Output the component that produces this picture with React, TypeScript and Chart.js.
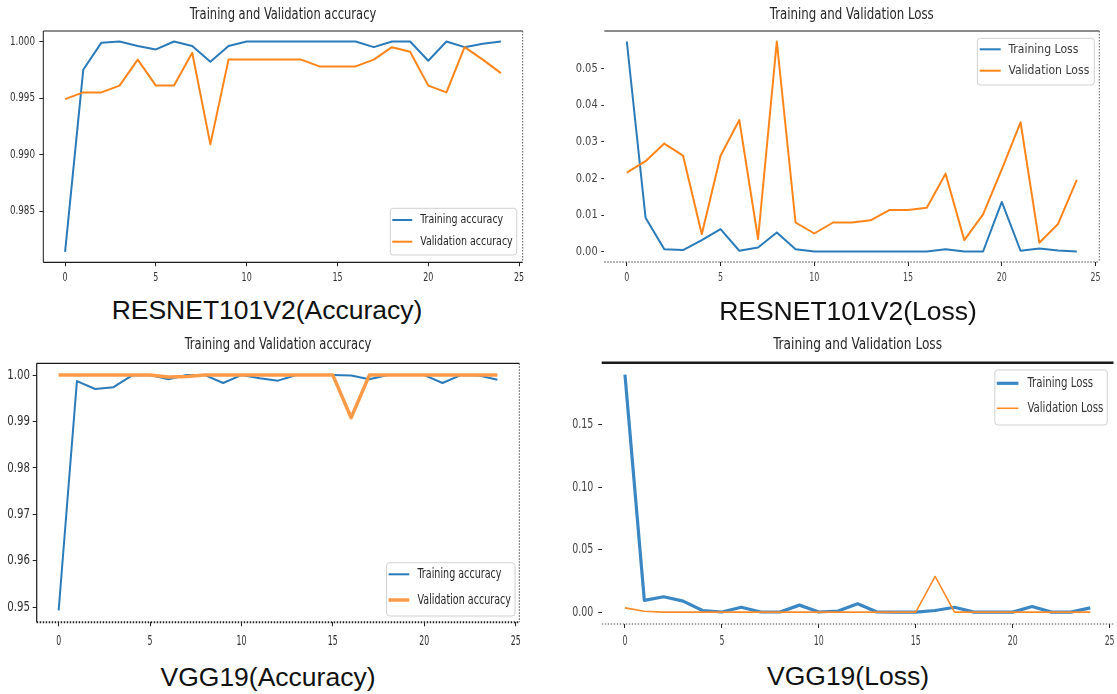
import React, { useEffect, useRef } from "react";
import { Chart, registerables } from "chart.js";

Chart.register(...registerables);

const COND = '"DejaVu Sans Condensed", "DejaVu Sans", sans-serif';
const CAPTION_FONT = '"Liberation Sans", Arial, Helvetica, sans-serif';
const TEXT = "#262626";
const TICK = "#262626";

// ---------- data ----------
const EPOCHS = [0, 1, 2, 3, 4, 5, 6, 7, 8, 9, 10, 11, 12, 13, 14, 15, 16, 17, 18, 19, 20, 21, 22, 23, 24];
const X_TICKS = [0, 5, 10, 15, 20, 25];

const RES_TRAIN_ACC = [0.9814, 0.9975, 0.9999, 1.0, 0.9996, 0.9993, 1.0, 0.9996, 0.9982, 0.9996, 1.0, 1.0, 1.0, 1.0, 1.0, 1.0, 1.0, 0.9995, 1.0, 1.0, 0.9983, 1.0, 0.9995, 0.9998, 1.0];
const RES_VAL_ACC = [0.9949, 0.9955, 0.9955, 0.9961, 0.9984, 0.9961, 0.9961, 0.999, 0.9909, 0.9984, 0.9984, 0.9984, 0.9984, 0.9984, 0.9978, 0.9978, 0.9978, 0.9984, 0.9995, 0.9991, 0.9961, 0.9955, 0.9995, 0.9984, 0.9972];
const RES_ACC_TICKS = [0.985, 0.99, 0.995, 1.0];

const RES_TRAIN_LOSS = [0.0573, 0.0093, 0.0007, 0.0005, 0.0032, 0.0062, 0.0003, 0.0012, 0.0053, 0.0007, 0.0001, 0.0001, 0.0001, 0.0001, 0.0001, 0.0001, 0.0001, 0.0007, 0.0001, 0.0001, 0.0136, 0.0003, 0.0009, 0.0004, 0.0001];
const RES_VAL_LOSS = [0.0216, 0.0247, 0.0295, 0.0262, 0.0048, 0.0262, 0.0359, 0.0035, 0.0573, 0.008, 0.005, 0.008, 0.008, 0.0086, 0.0114, 0.0114, 0.012, 0.0213, 0.0032, 0.0102, 0.0225, 0.0353, 0.0025, 0.0076, 0.0196];
const RES_LOSS_TICKS = [0.0, 0.01, 0.02, 0.03, 0.04, 0.05];

const VGG_TRAIN_ACC = [0.9493, 0.9987, 0.997, 0.9974, 0.9999, 1.0, 0.9991, 1.0, 1.0, 0.9983, 1.0, 0.9993, 0.9988, 1.0, 1.0, 1.0, 0.9999, 0.9991, 1.0, 1.0, 1.0, 0.9983, 1.0, 0.9999, 0.999];
const VGG_VAL_ACC = [1.0, 1.0, 1.0, 1.0, 1.0, 1.0, 0.9996, 0.9997, 1.0, 1.0, 1.0, 1.0, 1.0, 1.0, 1.0, 1.0, 0.9908, 1.0, 1.0, 1.0, 1.0, 1.0, 1.0, 1.0, 1.0];
const VGG_ACC_TICKS = [0.95, 0.96, 0.97, 0.98, 0.99, 1.0];

const VGG_TRAIN_LOSS = [0.19, 0.0095, 0.0124, 0.0089, 0.0014, 0.0002, 0.004, 0.0002, 0.0002, 0.0057, 0.0002, 0.001, 0.0068, 0.0002, 0.0001, 0.0001, 0.0014, 0.004, 0.0001, 0.0001, 0.0001, 0.0046, 0.0001, 0.0001, 0.0035];
const VGG_VAL_LOSS = [0.0035, 0.0008, 0.0001, 0.0001, 0.0001, 0.0001, 0.0001, 0.0001, 0.0001, 0.0001, 0.0001, 0.0001, 0.0001, 0.0001, 0.0001, 0.0001, 0.0286, 0.0001, 0.0001, 0.0001, 0.0001, 0.0001, 0.0001, 0.0001, 0.0001];
const VGG_LOSS_TICKS = [0.0, 0.05, 0.1, 0.15];

// ---------- layout / style specs ----------
type Side = { color: string; width: number; dash?: number[] } | null;

const SOLID = (w = 1): Side => ({ color: "#1a1a1a", width: w });
const DOTTED = (w = 1, c = "#555"): Side => ({ color: c, width: w, dash: [1.5, 1.5] });

const PANELS: any[] = [
  {
    key: "p1",
    canvas: { left: 0, top: 0, width: 550, height: 292 },
    area: { left: 43.3, top: 31, right: 522.7, bottom: 262.3 },
    title: "Training and Validation accuracy",
    titleY: 15,
    titleFont: 16,
    titleSx: 0.8,
    caption: "RESNET101V2(Accuracy)",
    captionX: 267,
    captionY: 310,
    train: RES_TRAIN_ACC,
    val: RES_VAL_ACC,
    trainLabel: "Training accuracy",
    valLabel: "Validation accuracy",
    trainColor: "#2b7bba",
    valColor: "#ff851a",
    trainWidth: 2,
    valWidth: 2,
    yTicks: RES_ACC_TICKS,
    yDec: 3,
    yFont: 13,
    ySx: 0.75,
    yTickLen: 4,
    yGap: 8.3,
    xFont: 13,
    xSx: 0.68,
    xTickLen: 4,
    xOff: 15.7,
    tickText: "#303030",
    frame: { left: SOLID(1), top: SOLID(1), bottom: SOLID(1.2), right: DOTTED(1) },
    legend: { right: 516.7, bottom: 255, boxH: 46.7, rowTop: 11.7, rowH: 21.7, font: 13, sx: 0.81, padL: 2, handle: 20, gap: 8, padR: 4 },
  },
  {
    key: "p2",
    canvas: { left: 550, top: 0, width: 567, height: 292 },
    area: { left: 604.3, top: 31, right: 1099.3, bottom: 262 },
    title: "Training and Validation Loss",
    titleY: 15,
    titleFont: 16,
    titleSx: 0.82,
    caption: "RESNET101V2(Loss)",
    captionX: 848,
    captionY: 311,
    train: RES_TRAIN_LOSS,
    val: RES_VAL_LOSS,
    trainLabel: "Training Loss",
    valLabel: "Validation Loss",
    trainColor: "#2b7bba",
    valColor: "#ff851a",
    trainWidth: 2,
    valWidth: 2,
    yTicks: RES_LOSS_TICKS,
    yDec: 2,
    yFont: 12.5,
    ySx: 0.88,
    yTickLen: 3,
    yGap: 6.6,
    xFont: 13,
    xSx: 0.68,
    xTickLen: 4,
    xOff: 16,
    tickText: "#444",
    frame: { left: null, top: SOLID(1.2), bottom: DOTTED(1.2, "#444"), right: DOTTED(1, "#666") },
    legend: { right: 1094.3, top: 38.3, boxH: 46.7, rowTop: 11, rowH: 21.4, font: 13, sx: 0.93, padL: 2.3, handle: 21, gap: 7.7, padR: 5, color: "#3a3a3a" },
  },
  {
    key: "p3",
    canvas: { left: 0, top: 325, width: 550, height: 330 },
    area: { left: 36.7, top: 363.3, right: 519.3, bottom: 622.3 },
    title: "Training and Validation accuracy",
    titleY: 345,
    titleFont: 16,
    titleSx: 0.8,
    caption: "VGG19(Accuracy)",
    captionX: 268,
    captionY: 676.5,
    train: VGG_TRAIN_ACC,
    val: VGG_VAL_ACC,
    trainLabel: "Training accuracy",
    valLabel: "Validation accuracy",
    trainColor: "#2b7bba",
    valColor: "#fc9a48",
    trainWidth: 2,
    valWidth: 3.5,
    yTicks: VGG_ACC_TICKS,
    yDec: 2,
    yFont: 14,
    ySx: 0.81,
    yTickLen: 4,
    yGap: 6.7,
    xFont: 14,
    xSx: 0.62,
    xTickLen: 4,
    xOff: 19.4,
    tickText: "#303030",
    frame: { left: SOLID(1.2), top: SOLID(1.2), bottom: DOTTED(2, "#222"), right: DOTTED(1, "#444") },
    legend: { right: 515, bottom: 616, boxH: 53.3, rowTop: 11.6, rowH: 25.7, font: 14, sx: 0.76, padL: 2, handle: 20.7, gap: 8.3, padR: 4 },
  },
  {
    key: "p4",
    canvas: { left: 550, top: 325, width: 580, height: 330 },
    area: { left: 601.7, top: 362.7, right: 1113.5, bottom: 624 },
    title: "Training and Validation Loss",
    titleY: 345,
    titleFont: 16,
    titleSx: 0.845,
    caption: "VGG19(Loss)",
    captionX: 848,
    captionY: 676,
    train: VGG_TRAIN_LOSS,
    val: VGG_VAL_LOSS,
    trainLabel: "Training Loss",
    valLabel: "Validation Loss",
    trainColor: "#3a87c4",
    valColor: "#ff8a2a",
    trainWidth: 3.2,
    valWidth: 1.6,
    yTicks: VGG_LOSS_TICKS,
    yDec: 2,
    yFont: 14,
    ySx: 0.75,
    yTickLen: 3.5,
    yGap: 8.4,
    xFont: 14,
    xSx: 0.62,
    xTickLen: 4,
    xOff: 17.7,
    tickText: "#444",
    frame: { left: null, top: SOLID(2.6), bottom: DOTTED(1.2, "#555"), right: null },
    legend: { right: 1107.3, top: 370, boxH: 55, rowTop: 13.3, rowH: 25, font: 14, sx: 0.81, padL: 2, handle: 21.6, gap: 9, padR: 4, color: "#333" },
  },
];

function strokeSide(ctx: CanvasRenderingContext2D, side: Side, x1: number, y1: number, x2: number, y2: number) {
  if (!side) return;
  ctx.save();
  ctx.strokeStyle = side.color;
  ctx.lineWidth = side.width;
  ctx.setLineDash(side.dash || []);
  ctx.beginPath();
  ctx.moveTo(x1, y1);
  ctx.lineTo(x2, y2);
  ctx.stroke();
  ctx.restore();
}

function roundRect(ctx: CanvasRenderingContext2D, x: number, y: number, w: number, h: number, r: number) {
  ctx.beginPath();
  ctx.moveTo(x + r, y);
  ctx.lineTo(x + w - r, y);
  ctx.arcTo(x + w, y, x + w, y + r, r);
  ctx.lineTo(x + w, y + h - r);
  ctx.arcTo(x + w, y + h, x + w - r, y + h, r);
  ctx.lineTo(x + r, y + h);
  ctx.arcTo(x, y + h, x, y + h - r, r);
  ctx.lineTo(x, y + r);
  ctx.arcTo(x, y, x + r, y, r);
  ctx.closePath();
}

// draws horizontally-compressed text (the reference figure is squeezed sideways)
function drawText(
  ctx: CanvasRenderingContext2D,
  text: string,
  x: number,
  y: number,
  size: number,
  sx: number,
  align: CanvasTextAlign,
  color: string
) {
  ctx.save();
  ctx.font = `${size}px ${COND}`;
  ctx.fillStyle = color;
  ctx.textAlign = align;
  ctx.textBaseline = "middle";
  ctx.translate(x, y);
  ctx.scale(sx, 1);
  ctx.fillText(text, 0, 0);
  ctx.restore();
}

function buildConfig(s: any) {
  const c = s.canvas;
  const a = s.area;
  const all = [...s.train, ...s.val];
  const lo = Math.min(...all);
  const hi = Math.max(...all);
  const yPadV = (hi - lo) * 0.05;
  const xLo = Math.min(...EPOCHS);
  const xHi = Math.max(...EPOCHS);
  const xPadV = (xHi - xLo) * 0.05;
  const mk = (vals: number[]) => EPOCHS.map((e, i) => ({ x: e, y: vals[i] }));

  const decor = {
    id: "mplDecor",
    afterDraw(chart: any) {
      const ctx: CanvasRenderingContext2D = chart.ctx;
      const ar = chart.chartArea;
      const xs = chart.scales.x;
      const ys = chart.scales.y;
      // spines
      strokeSide(ctx, s.frame.top, ar.left, ar.top, ar.right, ar.top);
      strokeSide(ctx, s.frame.bottom, ar.left, ar.bottom, ar.right, ar.bottom);
      strokeSide(ctx, s.frame.left, ar.left, ar.top, ar.left, ar.bottom);
      strokeSide(ctx, s.frame.right, ar.right, ar.top, ar.right, ar.bottom);
      // tick labels, positioned by the chart's own scales
      xs.ticks.forEach((t: any) => {
        drawText(ctx, String(t.value), xs.getPixelForValue(t.value), ar.bottom + s.xOff, s.xFont, s.xSx, "center", s.tickText);
      });
      ys.ticks.forEach((t: any) => {
        drawText(ctx, Number(t.value).toFixed(s.yDec), ar.left - s.yGap, ys.getPixelForValue(t.value), s.yFont, s.ySx, "right", s.tickText);
      });
      // title
      drawText(ctx, s.title, (ar.left + ar.right) / 2, s.titleY - c.top, s.titleFont, s.titleSx, "center", TEXT);
      // legend
      const L = s.legend;
      const ds = chart.data.datasets;
      ctx.save();
      ctx.font = `${L.font}px ${COND}`;
      const tw = Math.max(...ds.map((d: any) => ctx.measureText(d.label).width)) * L.sx;
      ctx.restore();
      const w = L.padL + L.handle + L.gap + tw + L.padR;
      const h = L.boxH;
      const bx = L.right - c.left - w;
      const by = L.top !== undefined ? L.top - c.top : L.bottom - c.top - h;
      ctx.save();
      roundRect(ctx, bx, by, w, h, 3);
      ctx.fillStyle = "rgba(255,255,255,0.85)";
      ctx.fill();
      ctx.strokeStyle = "#d0d0d0";
      ctx.lineWidth = 1;
      ctx.stroke();
      ds.forEach((d: any, i: number) => {
        const cy = by + L.rowTop + i * L.rowH;
        ctx.strokeStyle = d.borderColor;
        ctx.lineWidth = d.borderWidth;
        ctx.beginPath();
        ctx.moveTo(bx + L.padL, cy);
        ctx.lineTo(bx + L.padL + L.handle, cy);
        ctx.stroke();
        drawText(ctx, d.label, bx + L.padL + L.handle + L.gap, cy, L.font, L.sx, "left", L.color || TEXT);
      });
      ctx.restore();
    },
  };

  const line = (label: string, vals: number[], color: string, width: number, order: number) => ({
    label,
    data: mk(vals),
    borderColor: color,
    backgroundColor: color,
    borderWidth: width,
    pointRadius: 0,
    tension: 0,
    fill: false,
    borderJoinStyle: "round",
    order,
  });

  return {
    type: "line",
    data: {
      datasets: [
        line(s.trainLabel, s.train, s.trainColor, s.trainWidth, 2),
        line(s.valLabel, s.val, s.valColor, s.valWidth, 1),
      ],
    },
    options: {
      responsive: false,
      animation: false,
      events: [],
      layout: {
        padding: { left: 0, top: a.top - c.top, right: c.left + c.width - a.right, bottom: 0 },
      },
      plugins: {
        legend: { display: false },
        tooltip: { enabled: false },
        title: { display: false },
      },
      scales: {
        x: {
          type: "linear",
          bounds: "data",
          min: xLo - xPadV,
          max: xHi + xPadV,
          afterBuildTicks: (sc: any) => {
            sc.ticks = X_TICKS.map((v) => ({ value: v }));
          },
          afterFit: (sc: any) => {
            sc.height = c.top + c.height - a.bottom;
          },
          ticks: { display: false, autoSkip: false, maxRotation: 0 },
          grid: { display: true, drawOnChartArea: false, drawTicks: true, tickLength: s.xTickLen, color: TICK, lineWidth: 1 },
          border: { display: false },
        },
        y: {
          type: "linear",
          bounds: "data",
          min: lo - yPadV,
          max: hi + yPadV,
          afterBuildTicks: (sc: any) => {
            sc.ticks = s.yTicks.map((v: number) => ({ value: v }));
          },
          afterFit: (sc: any) => {
            sc.width = a.left - c.left;
          },
          ticks: { display: false, autoSkip: false },
          grid: { display: true, drawOnChartArea: false, drawTicks: true, tickLength: s.yTickLen, color: TICK, lineWidth: 1 },
          border: { display: false },
        },
      },
    },
    plugins: [decor],
  } as any;
}

function Panel({ spec }: { spec: any }) {
  const ref = useRef<HTMLCanvasElement>(null);
  useEffect(() => {
    const canvas = ref.current;
    if (!canvas) return;
    const chart = new Chart(canvas, buildConfig(spec));
    return () => chart.destroy();
  }, [spec]);
  const c = spec.canvas;
  return (
    <canvas
      ref={ref}
      width={c.width}
      height={c.height}
      style={{ position: "absolute", left: c.left, top: c.top, width: c.width, height: c.height }}
    />
  );
}

export default function App() {
  useEffect(() => {
    document.body.style.margin = "0";
    document.body.style.background = "#fff";
  }, []);
  return (
    <div style={{ position: "relative", width: 1117, height: 694, overflow: "hidden", background: "#fff" }}>
      {PANELS.map((p) => (
        <Panel key={p.key} spec={p} />
      ))}
      {PANELS.map((p) => (
        <div
          key={p.key + "-cap"}
          style={{
            position: "absolute",
            left: p.captionX - 250,
            width: 500,
            top: p.captionY - 15,
            height: 30,
            lineHeight: "30px",
            textAlign: "center",
            fontFamily: CAPTION_FONT,
            fontSize: 26.5,
            color: "#111",
            whiteSpace: "nowrap",
          }}
        >
          {p.caption}
        </div>
      ))}
    </div>
  );
}
